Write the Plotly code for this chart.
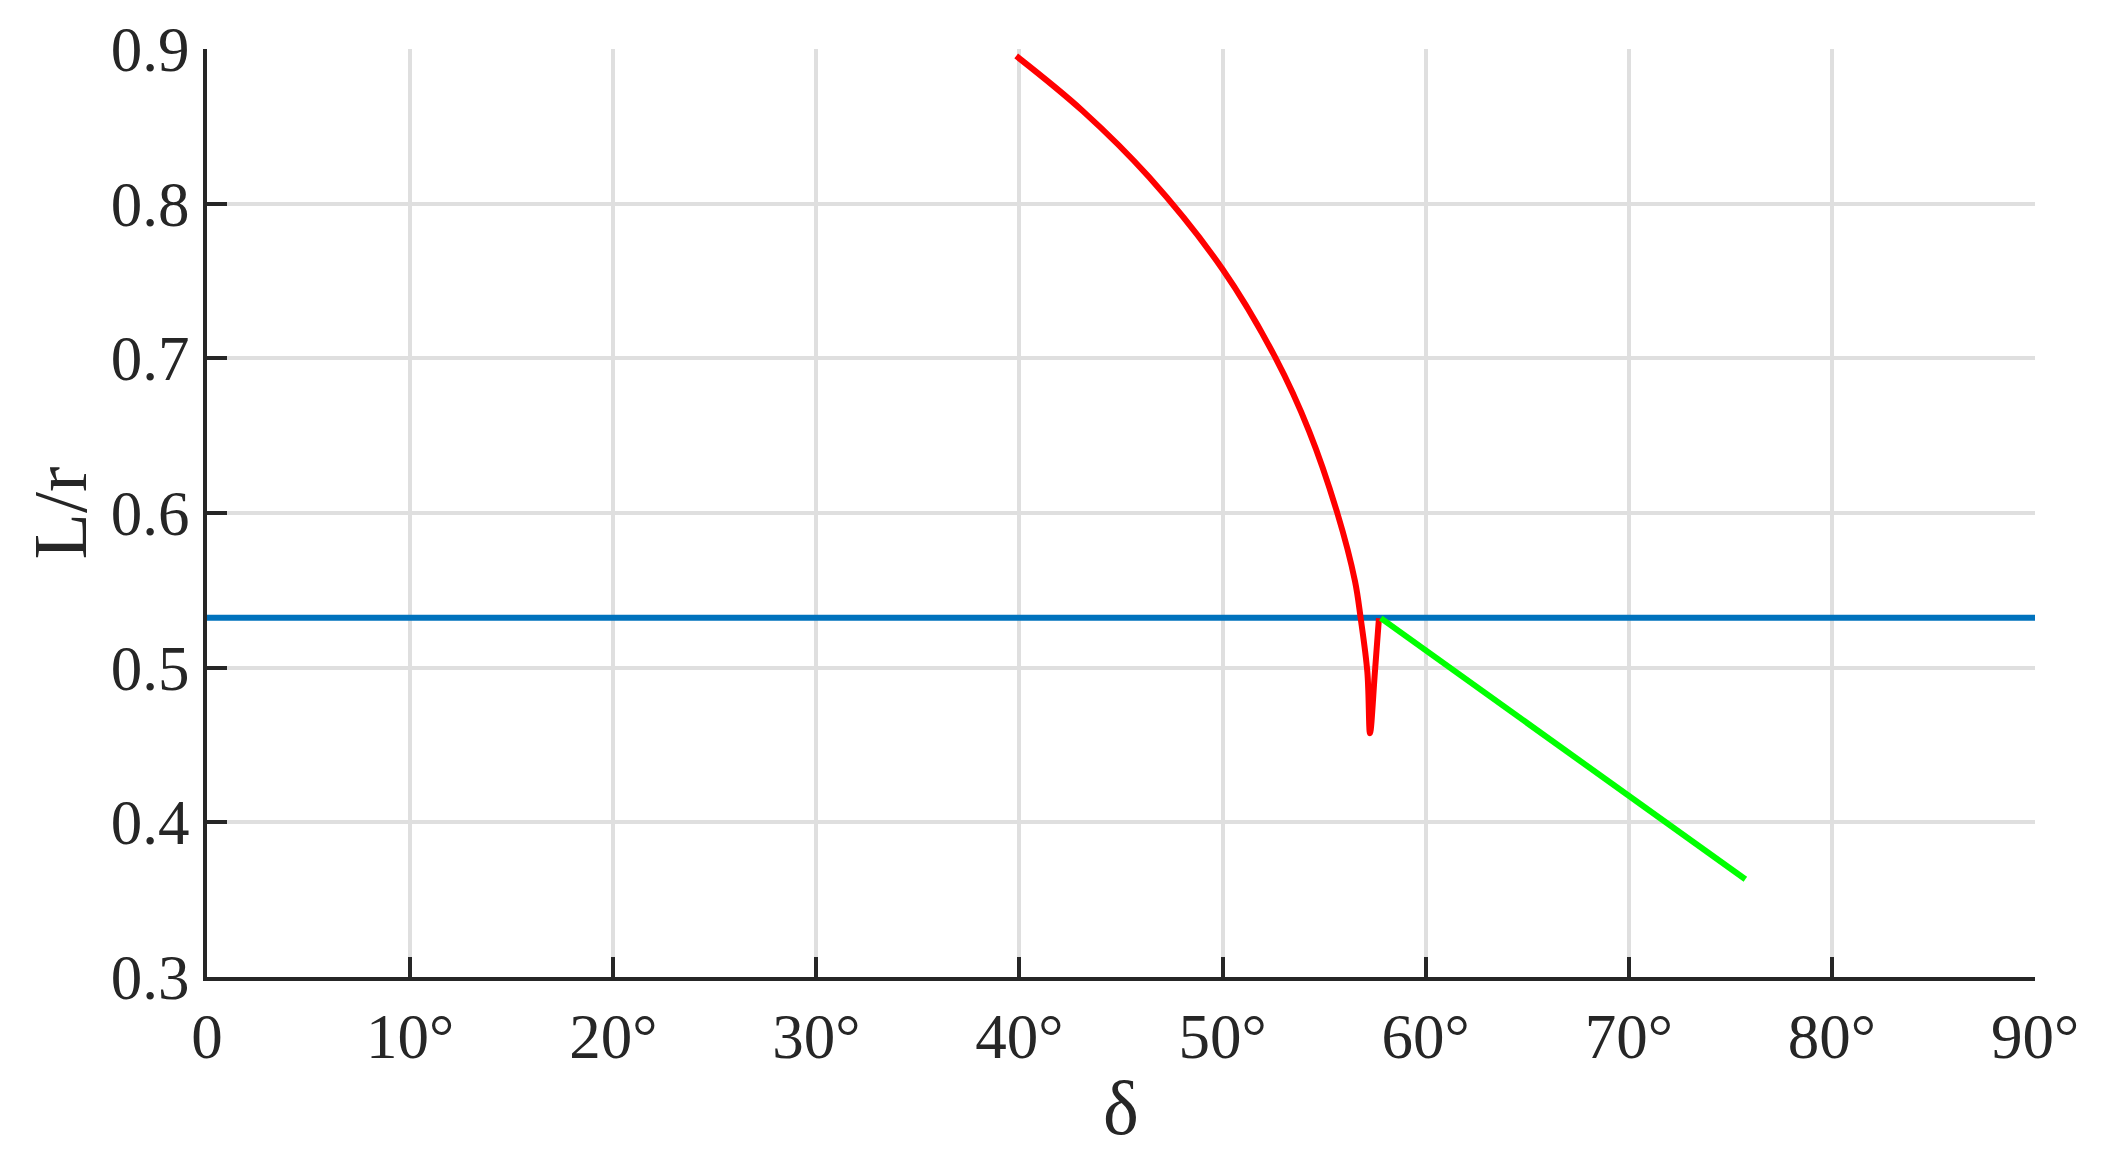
import plotly.graph_objects as go

# ---------------------------------- #
#                DATA                #
# ---------------------------------- #

# red branch: L/r vs delta (deg)
red_delta = [39.84, 43.11, 46.39, 50.00, 52.62, 54.26, 55.65, 56.52, 56.80,
             57.13, 57.26, 57.50, 57.70]
red_lr = [0.8955, 0.860, 0.817, 0.7576, 0.700, 0.653, 0.600, 0.556, 0.532,
          0.497, 0.4576, 0.497, 0.532]

# green branch
green_delta = [57.79, 66.0, 75.74]
green_lr = [0.532, 0.455, 0.3632]

# blue reference level
blue_delta = [0, 90]
blue_lr = [0.5323, 0.5323]

x_tickvals = [0, 10, 20, 30, 40, 50, 60, 70, 80, 90]
x_ticktext = ['0', '10°', '20°', '30°', '40°', '50°', '60°', '70°', '80°', '90°']
y_tickvals = [0.3, 0.4, 0.5, 0.6, 0.7, 0.8, 0.9]
y_ticktext = ['0.3', '0.4', '0.5', '0.6', '0.7', '0.8', '0.9']

# ---------------------------------- #
#              STYLING               #
# ---------------------------------- #

SET_FONT = 'Liberation Serif, Times New Roman, serif'
AX_COLOR = '#262626'
GRID_COLOR = '#dfdfdf'

fig = go.Figure()

fig.add_trace(go.Scatter(x=blue_delta, y=blue_lr, mode='lines',
                         line=dict(color='#0072BD', width=6),
                         showlegend=False))

# smooth branch with a narrow cusp near 57 deg
fig.add_trace(go.Scatter(x=red_delta, y=red_lr, mode='lines',
                         line=dict(color='#FF0000', width=6,
                                   shape='spline', smoothing=1.0),
                         showlegend=False))

fig.add_trace(go.Scatter(x=green_delta, y=green_lr, mode='lines',
                         line=dict(color='#00FF00', width=6),
                         showlegend=False))

fig.update_xaxes(range=[0, 90],
                 tickvals=x_tickvals, ticktext=x_ticktext,
                 ticks='inside', ticklen=20, tickwidth=4, tickcolor=AX_COLOR,
                 showline=True, linewidth=4, linecolor=AX_COLOR,
                 showgrid=True, gridcolor=GRID_COLOR, gridwidth=4,
                 zeroline=False,
                 title=dict(text='δ', standoff=18),
                 ticklabelstandoff=1)

fig.update_yaxes(range=[0.3, 0.9],
                 tickvals=y_tickvals, ticktext=y_ticktext,
                 ticks='inside', ticklen=20, tickwidth=4, tickcolor=AX_COLOR,
                 showline=True, linewidth=4, linecolor=AX_COLOR,
                 showgrid=True, gridcolor=GRID_COLOR, gridwidth=4,
                 zeroline=False,
                 title=dict(text='L/r', standoff=0),
                 ticklabelstandoff=1)

# page body adds 8px around the plot div, so size is trimmed to fit window
fig.update_layout(
    width=2098, height=1142,
    plot_bgcolor='white', paper_bgcolor='white',
    font=dict(family=SET_FONT, size=63, color=AX_COLOR),
    margin=dict(l=199, r=71, t=41, b=173, autoexpand=False),
)

fig.write_html('out.html')
